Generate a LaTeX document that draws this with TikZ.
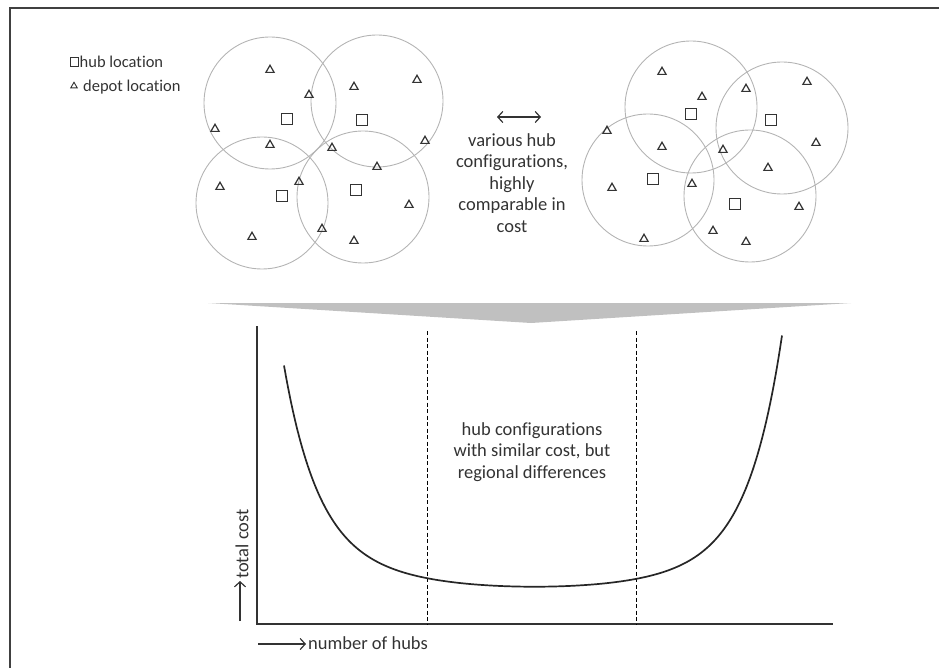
\documentclass[tikz,border=0pt]{standalone}
\usepackage{fontspec}
\setmainfont{Carlito}[Ligatures=NoCommon]
\usetikzlibrary{shapes.geometric,arrows.meta}

\definecolor{ink}{HTML}{333333}
\definecolor{ringgray}{HTML}{B4B4B4}
\definecolor{wedgegray}{HTML}{C0C0C0}

\tikzset{
  zone/.style={circle, draw=ringgray, line width=0.9pt, minimum size=132pt, inner sep=0pt},
  depot/.style={regular polygon, regular polygon sides=3, draw=ink, line width=1.2pt,
                minimum size=9.5pt, inner sep=0pt},
  hub/.style={rectangle, draw=ink, line width=1.2pt, minimum size=10.5pt, inner sep=0pt},
  legdepot/.style={depot, minimum size=7.5pt, line width=0.9pt},
  leghub/.style={hub, minimum size=8.5pt, line width=1pt},
  legtext/.style={font=\fontsize{16.5}{19.5}\selectfont, text=ink, inner sep=0pt, anchor=west},
  label/.style={font=\fontsize{18.5}{21.5}\selectfont, text=ink, align=center, inner sep=0pt},
  axis/.style={draw=ink, line width=1.5pt},
  curve/.style={draw=black!85, line width=1.7pt},
  guide/.style={draw=black, line width=1pt, dash pattern=on 4pt off 2.5pt},
  barb/.style={line width=1.2pt, draw=ink, -{Straight Barb[length=5pt,width=11pt]}},
  frameline/.style={draw=black!75, line width=1.8pt}
}

\begin{document}
\begin{tikzpicture}[x=1pt,y=-1pt]
\useasboundingbox (0,0) rectangle (939,668);

% frame
\draw[frameline] (10,668) -- (10,8) -- (939,8);

% legend
\node[leghub] (lhub) at (74.5,62) {};
\node[legtext] (lhubt) at (79.5,62) {hub location};
\node[legdepot] (ldep) at (74,86) {};
\node[legtext] (ldept) at (83,87) {depot location};

% first hub configuration
\node[zone] (a1) at (270,103) {};
\node[zone] (a2) at (377,101) {};
\node[zone] (a3) at (262,203) {};
\node[zone] (a4) at (363,197) {};
\foreach \n/\p in {ad1/{(270,70)}, ad2/{(309,95)}, ad3/{(215,129)}, ad4/{(270,145)},
                   ad5/{(332,148)}, ad6/{(354,87)}, ad7/{(417,80)}, ad8/{(425,141)},
                   ad9/{(377,167)}, ad10/{(220,187)}, ad11/{(299,182)}, ad12/{(252,237)},
                   ad13/{(322,229)}, ad14/{(409,205)}, ad15/{(354,241)}}
  \node[depot] (\n) at \p {};
\node[hub] (ah1) at (287,119) {};
\node[hub] (ah2) at (362,120) {};
\node[hub] (ah3) at (282,196) {};
\node[hub] (ah4) at (356,190) {};

% second hub configuration
\node[zone] (b1) at (691,107) {};
\node[zone] (b2) at (782,128) {};
\node[zone] (b3) at (648,180) {};
\node[zone] (b4) at (750,196) {};
\foreach \n/\p in {bd1/{(662,72)}, bd2/{(702,97)}, bd3/{(746,89)}, bd4/{(807,82)},
                   bd5/{(607,131)}, bd6/{(662,147)}, bd7/{(723,150)}, bd8/{(816,143)},
                   bd9/{(768,168)}, bd10/{(612,188)}, bd11/{(692,184)}, bd12/{(799,207)},
                   bd13/{(644,239)}, bd14/{(713,231)}, bd15/{(746,242)}}
  \node[depot] (\n) at \p {};
\node[hub] (bh1) at (691,114) {};
\node[hub] (bh2) at (771,120) {};
\node[hub] (bh3) at (653,179) {};
\node[hub] (bh4) at (735,204) {};

% comparison between the two configurations
\coordinate (swapL) at (497,117);
\coordinate (swapR) at (541,117);
\draw[line width=1.2pt, draw=ink, {Straight Barb[length=5pt,width=11pt]}-{Straight Barb[length=5pt,width=11pt]}] (swapL) -- (swapR);
\node[label] (cmp) at (512,183) {various hub\\configurations,\\highly\\comparable in\\cost};

% funnel into the cost chart
\fill[wedgegray] (208,303) -- (851,303) -- (531,323) -- cycle;

% cost chart
\draw[axis] (257,326) -- (257,624) -- (833,624);
\draw[guide] (427,331) -- (427,624);
\draw[guide] (636,331) -- (636,624);
\draw[curve] plot[domain=284:782, samples=220, smooth]
  (\x, {624-(37+190*exp(-(\x-284)/34.5)+221*exp((\x-782)/34)+((\x-535)*0.02236)^2)});
\node[label] (region) at (532,452) {hub configurations\\with similar cost, but\\regional differences};

% axis captions
\coordinate (xa0) at (258,644);
\coordinate (xa1) at (306,644);
\draw[barb] (xa0) -- (xa1);
\node[label, anchor=west] (xcap) at (308,643) {number of hubs};
\coordinate (ya0) at (240,621);
\coordinate (ya1) at (240,581);
\draw[barb] (ya0) -- (ya1);
\node[label, anchor=west, rotate=90] (ycap) at (242,579) {total cost};
\end{tikzpicture}
\end{document}
